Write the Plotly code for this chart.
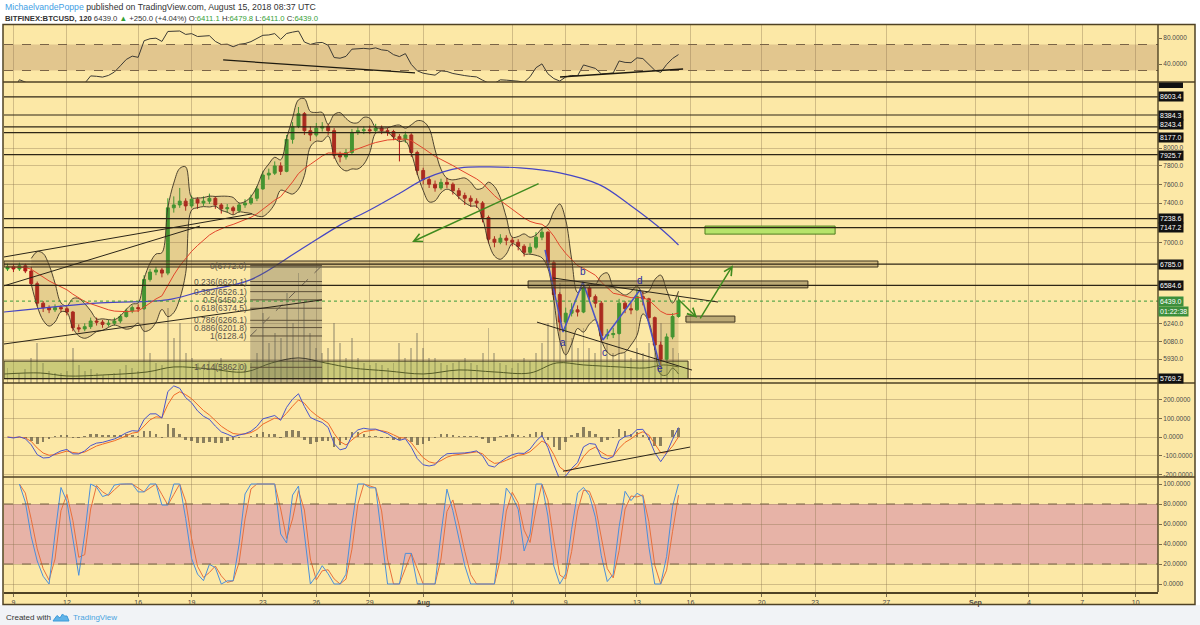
import numpy as np
import pandas as pd
import plotly.graph_objects as go

# ===================== DATA =====================
candle_start = "2018-07-08 16:00"      # first 8-hour candle (aggregated view)
candle_hours = 8
first_open = 6740.0
close = [6760, 6740, 6770, 6720, 6600, 6420, 6380, 6360, 6380, 6370,
         6340, 6200, 6190, 6210, 6260, 6250, 6230, 6240, 6260, 6300,
         6350, 6380, 6370, 6640, 6710, 6730, 6700, 7350, 7380, 7420,
         7370, 7440, 7400, 7420, 7450, 7380, 7340, 7350, 7320, 7380,
         7400, 7450, 7550, 7700, 7720, 7800, 7740, 8100, 8250, 8400,
         8200, 8150, 8230, 8250, 8200, 7920, 7900, 7950, 8180, 8200,
         8210, 8200, 8230, 8200, 8190, 8130, 8100, 8150, 7950, 7750,
         7650, 7600, 7560, 7620, 7600, 7530, 7480, 7450, 7420, 7400,
         7250, 7030, 7000, 7040, 7020, 7000, 6960, 6900, 6950, 7050,
         7100, 6800, 6500, 6250, 6330, 6360, 6340, 6560, 6480, 6420,
         6130, 6140, 6150, 6420, 6370, 6360, 6480, 6460, 6290, 6050,
         5930, 6120, 6300, 6439]
high = [6790, 6785, 6800, 6790, 6760, 6620, 6440, 6400, 6410, 6400,
        6390, 6350, 6230, 6240, 6290, 6290, 6270, 6270, 6290, 6320,
        6370, 6400, 6410, 6680, 6740, 6760, 6750, 7450, 7470, 7560,
        7450, 7480, 7460, 7470, 7500, 7470, 7400, 7390, 7370, 7400,
        7440, 7490, 7580, 7740, 7770, 7850, 7840, 8150, 8300, 8480,
        8420, 8250, 8290, 8300, 8280, 8230, 7960, 7990, 8220, 8240,
        8250, 8260, 8280, 8260, 8230, 8210, 8160, 8190, 8170, 7970,
        7780, 7680, 7640, 7660, 7670, 7620, 7560, 7510, 7480, 7450,
        7420, 7270, 7060, 7080, 7070, 7050, 7030, 6980, 6990, 7100,
        7150, 7110, 6820, 6520, 6380, 6420, 6400, 6610, 6580, 6500,
        6440, 6190, 6200, 6460, 6440, 6420, 6550, 6530, 6470, 6300,
        6080, 6150, 6330, 6480]
low = [6720, 6710, 6720, 6700, 6580, 6390, 6340, 6330, 6340, 6340,
       6310, 6170, 6160, 6170, 6190, 6220, 6200, 6210, 6220, 6240,
       6290, 6330, 6340, 6360, 6620, 6680, 6660, 6680, 7300, 7350,
       7320, 7350, 7340, 7370, 7390, 7340, 7290, 7300, 7280, 7300,
       7350, 7380, 7420, 7540, 7650, 7700, 7700, 7730, 8050, 8230,
       8150, 8080, 8130, 8190, 8150, 7880, 7840, 7870, 7930, 8150,
       8160, 8160, 8180, 8160, 8140, 8090, 7850, 8060, 7900, 7700,
       7600, 7560, 7520, 7540, 7560, 7490, 7440, 7380, 7360, 7350,
       7200, 6990, 6950, 6980, 6970, 6960, 6920, 6860, 6880, 6930,
       7020, 6760, 6450, 6170, 6160, 6300, 6300, 6330, 6440, 6380,
       6080, 6100, 6110, 6140, 6330, 6320, 6350, 6400, 6250, 6010,
       5860, 5920, 6100, 6290]
volume = [15, 12, 10, 14, 25, 40, 20, 12, 10, 10,
          12, 35, 18, 12, 14, 10, 8, 9, 10, 14,
          18, 15, 12, 75, 30, 20, 18, 75, 45, 60,
          30, 25, 20, 18, 22, 20, 25, 15, 15, 20,
          18, 20, 30, 70, 40, 50, 45, 90, 60, 110,
          80, 50, 35, 30, 35, 60, 40, 25, 45, 25,
          20, 18, 20, 18, 15, 20, 40, 25, 35, 50,
          35, 25, 25, 20, 18, 20, 22, 25, 20, 18,
          30, 55, 30, 20, 18, 15, 20, 25, 22, 30,
          40, 60, 120, 100, 70, 45, 35, 55, 35, 30,
          60, 40, 30, 50, 30, 25, 35, 30, 40, 55,
          60, 45, 35, 30]

# volume moving-average line (same units as volume)
vol_ma_times = ["2018-07-08 12:00", "2018-07-10 12:00", "2018-07-12 00:00", "2018-07-14 00:00",
                "2018-07-16 12:00", "2018-07-18 00:00", "2018-07-20 00:00", "2018-07-22 00:00",
                "2018-07-23 12:00", "2018-07-25 00:00", "2018-07-26 12:00", "2018-07-28 00:00",
                "2018-07-30 00:00", "2018-08-01 00:00", "2018-08-03 00:00", "2018-08-05 00:00",
                "2018-08-07 00:00", "2018-08-08 12:00", "2018-08-10 00:00", "2018-08-12 00:00",
                "2018-08-13 12:00", "2018-08-14 12:00", "2018-08-15 08:00"]
vol_ma_values = [9, 10, 7, 8, 11, 16, 14, 11, 20, 25, 20, 15, 12, 9, 13, 11, 10, 20, 18, 16, 15, 18, 16]

# long moving average (blue)
ma_long_times = ["2018-07-08 11:00", "2018-07-13 21:00", "2018-07-17 15:00", "2018-07-19 11:00",
                 "2018-07-22 07:00", "2018-07-25 02:00", "2018-07-27 08:00", "2018-07-29 00:00",
                 "2018-07-30 17:00", "2018-08-01 05:00", "2018-08-03 02:00", "2018-08-04 18:00",
                 "2018-08-06 10:30", "2018-08-08 16:00", "2018-08-10 22:00", "2018-08-12 14:30",
                 "2018-08-14 07:00", "2018-08-15 08:00"]
ma_long_values = [6340, 6423, 6450, 6524, 6636, 6924, 7172, 7328, 7507, 7669,
                  7778, 7789, 7778, 7723, 7593, 7380, 7142, 6973]

# horizontal levels with price labels
level_prices = [8801.5, 8603.4, 8384.3, 8243.4, 8177.0, 7925.7,
                7238.6, 7147.2, 6785.0, 6584.6, 5769.2]
last_price = 6439.0
countdown = "01:22:38"

# fibonacci retracement
fib_names = ["0", "0.236", "0.382", "0.5", "0.618", "0.786", "0.886", "1", "1.414", "1.618"]
fib_prices = [6772.0, 6620.1, 6526.1, 6450.2, 6374.5, 6266.1, 6201.8, 6128.4, 5862.0, 5730.7]
fib_t0, fib_t1 = "2018-07-22 07:00", "2018-07-26 07:40"

# drawn boxes: (time0, time1, price0, price1)
zone_boxes = [("2018-07-08 11:15", "2018-08-26 12:40", 6758, 6816),
              ("2018-08-06 21:20", "2018-08-22 14:20", 6561, 6626),
              ("2018-08-15 18:00", "2018-08-18 12:00", 6250, 6304),
              ("2018-07-08 11:15", "2018-08-15 20:50", 5769.2, 5914)]
target_box = ("2018-08-16 19:40", "2018-08-24 03:00", 7081, 7162)

# drawn trend lines (time0, value0, time1, value1)
price_trendlines = [("2018-07-08 11:15", 6855, "2018-07-22 09:20", 7287),
                    ("2018-07-08 11:15", 6580, "2018-07-19 11:15", 7162),
                    ("2018-07-08 11:15", 6059, "2018-07-26 07:40", 6450),
                    ("2018-08-08 07:00", 6654, "2018-08-17 13:10", 6431),
                    ("2018-08-07 09:20", 6250, "2018-08-16 02:10", 5839)]
rsi_trendlines = [("2018-07-20 18:30", 46.2, "2018-07-31 13:00", 26.2),
                  ("2018-08-08 16:20", 20.0, "2018-08-15 14:10", 32.3)]
macd_trendlines = [("2018-08-08 20:25", -182, "2018-08-15 23:30", -53.5)]

# green arrows (tail time, tail price, head time, head price)
green_arrows = [("2018-08-07 13:30", 7614, "2018-07-31 09:00", 7003),
                ("2018-08-15 06:00", 6468, "2018-08-16 09:00", 6288),
                ("2018-08-16 12:00", 6270, "2018-08-18 09:20", 6776)]

# a-b-c-d-e wave
wave_times = ["2018-08-07 20:10", "2018-08-08 20:25", "2018-08-09 23:15",
              "2018-08-11 02:10", "2018-08-13 04:05", "2018-08-14 07:10"]
wave_prices = [6924, 6163, 6617, 6094, 6542, 5870]
wave_label_text = ["a", "b", "c", "d", "e"]
wave_label_times = ["2018-08-08 20:25", "2018-08-09 23:15", "2018-08-11 04:50",
                    "2018-08-13 04:05", "2018-08-14 07:10"]
wave_label_prices = [6068, 6711, 5983, 6626, 5855]

# axes
x_tick_dates = ["2018-07-09", "2018-07-12", "2018-07-16", "2018-07-19", "2018-07-23",
                "2018-07-26", "2018-07-29", "2018-08-01", "2018-08-06", "2018-08-09",
                "2018-08-13", "2018-08-16", "2018-08-20", "2018-08-23", "2018-08-27",
                "2018-09-01", "2018-09-04", "2018-09-07", "2018-09-10"]
x_tick_text = ["9", "12", "16", "19", "23", "26", "29", "<b>Aug</b>", "6", "9",
               "13", "16", "20", "23", "27", "<b>Sep</b>", "4", "7", "10"]
x_view = ["2018-07-08 11:15", "2018-09-11 06:00"]
price_ticks = [8000, 7800, 7600, 7400, 7000, 6240, 6080, 5930]
price_view = [5733, 8786]
rsi_ticks = [80, 40]
rsi_view = [12.3, 100]
macd_ticks = [200, 100, 0, -100, -200]
macd_view = [-213, 288]
stoch_ticks = [100, 80, 60, 40, 20, 0]
stoch_view = [-8, 107]

# ===================== DERIVED SERIES =====================
times = pd.date_range(candle_start, periods=len(close), freq=f"{candle_hours}h")
c = pd.Series(close, dtype=float)
opens = [first_open] + close[:-1]
L = np.log10

bb_mid = c.rolling(5).mean()
bb_sd = c.rolling(5).std(ddof=0)
bb_up, bb_lo = bb_mid + 2 * bb_sd, bb_mid - 2 * bb_sd
ema_red = c.ewm(span=16, adjust=False).mean()

d = c.diff()
gain = d.clip(lower=0).ewm(alpha=1 / 9, adjust=False).mean()
loss = (-d.clip(upper=0)).ewm(alpha=1 / 9, adjust=False).mean()
rsi = 100 - 100 / (1 + gain / loss)

g5 = d.clip(lower=0).ewm(alpha=1 / 5, adjust=False).mean()
l5 = (-d.clip(upper=0)).ewm(alpha=1 / 5, adjust=False).mean()
rsi_fast = 100 - 100 / (1 + g5 / l5)
rmin = rsi_fast.rolling(5, min_periods=2).min()
rmax = rsi_fast.rolling(5, min_periods=2).max()
k_raw = 100 * (rsi_fast - rmin) / (rmax - rmin)
stoch_k = k_raw.rolling(2, min_periods=1).mean()
stoch_d = stoch_k.rolling(2, min_periods=1).mean()

macd = c.ewm(span=3, adjust=False).mean() - c.ewm(span=7, adjust=False).mean()
signal = macd.ewm(span=3, adjust=False).mean()
hist = macd - signal

# ===================== STYLE =====================
FONT = "Liberation Sans, Arial, sans-serif"
YELLOW = "#fce8a6"
GRID = "rgba(140,115,80,0.38)"
BORDER = "#4f4224"
UP, DOWN = "#2f9e2f", "#b01818"


def PX(x):
    return (x - 4) / 1154


def PY(y):
    return (592 - y) / 567


dom_rsi = [PY(82), 1]
dom_main = [PY(383), PY(82)]
dom_macd = [PY(477), PY(383)]
dom_stoch = [0, PY(477)]

fig = go.Figure()

# volume (base axis of main pane)
fig.add_trace(go.Bar(x=times, y=volume, width=2.6 * 3600e3, marker=dict(color="rgba(105,100,85,0.38)", line_width=0),
                     xaxis="x", yaxis="y"))
fig.add_trace(go.Scatter(x=pd.to_datetime(vol_ma_times), y=vol_ma_values, mode="lines",
                         line=dict(color="#2e2918", width=1, shape="spline"), xaxis="x", yaxis="y"))

# bollinger bands
fig.add_trace(go.Scatter(x=times, y=L(bb_up), mode="lines", line=dict(color="#3b3222", width=0.9, shape="spline"),
                         xaxis="x", yaxis="y2"))
fig.add_trace(go.Scatter(x=times, y=L(bb_lo), mode="lines", line=dict(color="#3b3222", width=0.9, shape="spline"),
                         fill="tonexty", fillcolor="rgba(150,115,60,0.22)", xaxis="x", yaxis="y2"))
fig.add_trace(go.Scatter(x=pd.to_datetime(ma_long_times), y=L(np.array(ma_long_values, float)), mode="lines",
                         line=dict(color="#4646c4", width=1.2, shape="spline"), xaxis="x", yaxis="y2"))
fig.add_trace(go.Scatter(x=times, y=L(ema_red), mode="lines", line=dict(color="#e2452c", width=1),
                         xaxis="x", yaxis="y2"))
fig.add_trace(go.Candlestick(x=times, open=L(np.array(opens, float)), high=L(np.array(high, float)),
                             low=L(np.array(low, float)), close=L(np.array(close, float)),
                             increasing=dict(line=dict(color=UP, width=1), fillcolor=UP),
                             decreasing=dict(line=dict(color=DOWN, width=1), fillcolor=DOWN),
                             whiskerwidth=0, xaxis="x", yaxis="y2"))
fig.add_trace(go.Scatter(x=pd.to_datetime(wave_times), y=L(np.array(wave_prices, float)), mode="lines",
                         line=dict(color="#4a52c6", width=1.5), xaxis="x", yaxis="y2"))

# RSI
fig.add_trace(go.Scatter(x=times, y=rsi, mode="lines", line=dict(color="#3c3a34", width=1),
                         xaxis="x", yaxis="y3"))
# MACD
fig.add_trace(go.Bar(x=times, y=hist, width=3.5 * 3600e3, marker=dict(color="rgba(100,92,70,0.75)", line_width=0),
                     xaxis="x", yaxis="y4"))
fig.add_trace(go.Scatter(x=times, y=signal, mode="lines", line=dict(color="#f06a28", width=1),
                         xaxis="x", yaxis="y4"))
fig.add_trace(go.Scatter(x=times, y=macd, mode="lines", line=dict(color="#4a55cc", width=1),
                         xaxis="x", yaxis="y4"))
# Stoch RSI
fig.add_trace(go.Scatter(x=times, y=stoch_d, mode="lines", line=dict(color="#e8703c", width=1),
                         xaxis="x", yaxis="y5"))
fig.add_trace(go.Scatter(x=times, y=stoch_k, mode="lines", line=dict(color="#4a8fdc", width=1),
                         xaxis="x", yaxis="y5"))

shapes = []
# chart background & footer
shapes.append(dict(type="rect", xref="paper", yref="paper", x0=PX(3), x1=PX(1195), y0=PY(605), y1=PY(24.5),
                   fillcolor=YELLOW, line_width=0, layer="below"))
shapes.append(dict(type="rect", xref="paper", yref="paper", x0=PX(0), x1=PX(1200), y0=PY(625), y1=PY(605),
                   fillcolor="#f1f3f6", line_width=0, layer="below"))
# RSI band & stoch band
shapes.append(dict(type="rect", xref="paper", yref="y3", x0=0, x1=1, y0=30, y1=70,
                   fillcolor="rgba(165,120,85,0.30)", line_width=0, layer="below"))
shapes.append(dict(type="rect", xref="paper", yref="y5", x0=0, x1=1, y0=20, y1=80,
                   fillcolor="rgba(195,85,170,0.36)", line_width=0, layer="below"))
for yr, v in [("y3", 70), ("y3", 30), ("y5", 80), ("y5", 20)]:
    shapes.append(dict(type="line", xref="paper", yref=yr, x0=0, x1=1, y0=v, y1=v,
                       line=dict(color="#7a6446", width=1, dash="dash")))

# boxes
box_styles = [dict(fillcolor="rgba(140,110,60,0.35)"), dict(fillcolor="rgba(110,95,60,0.45)"),
              dict(fillcolor="rgba(110,95,60,0.45)"), dict(fillcolor="rgba(135,160,60,0.42)")]
for (t0, t1, p0, p1), st in zip(zone_boxes, box_styles):
    shapes.append(dict(type="rect", xref="x", yref="y2", x0=t0, x1=t1, y0=L(p0), y1=L(p1),
                       line=dict(color="#3f3420", width=1), **st))
t0, t1, p0, p1 = target_box
shapes.append(dict(type="rect", xref="x", yref="y2", x0=t0, x1=t1, y0=L(p0), y1=L(p1),
                   fillcolor="#b6e36a", line=dict(color="#4f7d1e", width=1)))

# fib
shapes.append(dict(type="rect", xref="x", yref="y2", x0=fib_t0, x1=fib_t1, y0=L(5600), y1=L(fib_prices[0]),
                   fillcolor="rgba(95,90,80,0.33)", line_width=0))
for p in fib_prices:
    shapes.append(dict(type="line", xref="x", yref="y2", x0=fib_t0, x1=fib_t1, y0=L(p), y1=L(p),
                       line=dict(color="#5e5038", width=1)))
shapes.append(dict(type="line", xref="x", yref="y2", x0=fib_t0, x1=fib_t1, y0=L(fib_prices[7]), y1=L(fib_prices[0]),
                   line=dict(color="#6b6050", width=1, dash="dash")))

# horizontal levels
for p in level_prices:
    shapes.append(dict(type="line", xref="paper", yref="y2", x0=0, x1=1, y0=L(p), y1=L(p),
                       line=dict(color="#2e2616", width=1.2)))
shapes.append(dict(type="line", xref="paper", yref="y2", x0=0, x1=1, y0=L(last_price), y1=L(last_price),
                   line=dict(color="#3a9a3a", width=1, dash="dot")))

# trend lines
for t0, v0, t1, v1 in price_trendlines:
    shapes.append(dict(type="line", xref="x", yref="y2", x0=t0, x1=t1, y0=L(v0), y1=L(v1),
                       line=dict(color="#2a2418", width=1)))
for t0, v0, t1, v1 in rsi_trendlines:
    shapes.append(dict(type="line", xref="x", yref="y3", x0=t0, x1=t1, y0=v0, y1=v1,
                       line=dict(color="#1e1a10", width=1.3)))
for t0, v0, t1, v1 in macd_trendlines:
    shapes.append(dict(type="line", xref="x", yref="y4", x0=t0, x1=t1, y0=v0, y1=v1,
                       line=dict(color="#2a2418", width=1)))

# pane separators, axis lines, border
for ypx in (82, 383, 477):
    shapes.append(dict(type="line", xref="paper", yref="paper", x0=PX(3), x1=PX(1195), y0=PY(ypx), y1=PY(ypx),
                       line=dict(color=BORDER, width=1.6)))
shapes.append(dict(type="line", xref="paper", yref="paper", x0=1, x1=1, y0=0, y1=PY(24.5),
                   line=dict(color=BORDER, width=1.4)))
shapes.append(dict(type="rect", xref="paper", yref="paper", x0=PX(3), x1=PX(1195), y0=PY(604.5), y1=PY(24.5),
                   line=dict(color=BORDER, width=1.5)))
# clipped top label fragment
shapes.append(dict(type="rect", xref="paper", yref="paper", x0=PX(1159), x1=PX(1183), y0=PY(88), y1=PY(82.5),
                   fillcolor="#111111", line_width=0))
# footer logo
lx = [53, 57, 60, 62.5, 64.5, 67, 69, 53]
ly = [621, 615.5, 618, 614, 616, 616, 621, 621]
path = "M" + " L".join(f"{PX(a):.5f},{PY(b):.5f}" for a, b in zip(lx, ly)) + " Z"
shapes.append(dict(type="path", xref="paper", yref="paper", path=path, fillcolor="#5fb3e8",
                   line=dict(color="#3d9ad8", width=1)))

ann = []
# header
ann.append(dict(xref="paper", yref="paper", x=PX(3), y=PY(7), xanchor="left", yanchor="middle", showarrow=False,
                text='<span style="color:#3fa0e4">MichaelvandePoppe</span> published on TradingView.com, August 15, 2018 08:37 UTC',
                font=dict(family=FONT, size=8.7, color="#333333")))
G = "#34a034"
ann.append(dict(xref="paper", yref="paper", x=PX(3), y=PY(18.5), xanchor="left", yanchor="middle", showarrow=False,
                text=(f'<b>BITFINEX:BTCUSD, 120</b> 6439.0 <span style="color:{G}">▲</span> +250.0 (+4.04%) '
                      f'O:<span style="color:{G}">6411.1</span> H:<span style="color:{G}">6479.8</span> '
                      f'L:<span style="color:{G}">6411.0</span> C:<span style="color:{G}">6439.0</span>'),
                font=dict(family=FONT, size=7.7, color="#333333")))
# footer
ann.append(dict(xref="paper", yref="paper", x=PX(4), y=PY(618), xanchor="left", yanchor="middle", showarrow=False,
                text="Created with", font=dict(family=FONT, size=8, color="#333333")))
ann.append(dict(xref="paper", yref="paper", x=PX(71), y=PY(618), xanchor="left", yanchor="middle", showarrow=False,
                text="TradingView", font=dict(family=FONT, size=8, color="#4aa3df")))

# price labels on the right
label_shift = {8243.4: 2, 8177.0: -5, 7925.7: -1}
for p in level_prices[1:]:
    ann.append(dict(xref="paper", yref="y2", x=1, y=L(p), xanchor="left", yanchor="middle", showarrow=False,
                    yshift=label_shift.get(p, 0), text=f"{p:.1f}", bgcolor="#111111", borderpad=1,
                    font=dict(family=FONT, size=7, color="#ffffff")))
ann.append(dict(xref="paper", yref="y2", x=1, y=L(last_price), xanchor="left", yanchor="middle", showarrow=False,
                text=f"{last_price:.1f}", bgcolor="#3c8f3c", borderpad=1, font=dict(family=FONT, size=7, color="#ffffff")))
ann.append(dict(xref="paper", yref="y2", x=1, y=L(last_price), xanchor="left", yanchor="middle", showarrow=False,
                yshift=-10, text=countdown, bgcolor="#3c8f3c", borderpad=1,
                font=dict(family=FONT, size=7, color="#ffffff")))

# fib labels
for n, p in zip(fib_names[:-1], fib_prices[:-1]):
    ann.append(dict(xref="x", yref="y2", x=fib_t0, y=L(p), xanchor="right", yanchor="middle", showarrow=False,
                    xshift=-1, text=f"{n}({p:.1f})", font=dict(family=FONT, size=8.5, color="#5a5448")))

# wave labels
for t, tx, p in zip(wave_label_times, wave_label_text, wave_label_prices):
    ann.append(dict(xref="x", yref="y2", x=t, y=L(p), showarrow=False, text=tx,
                    font=dict(family=FONT, size=10, color="#2c2ca0")))

# green arrows
for t0, p0, t1, p1 in green_arrows:
    ann.append(dict(xref="x", yref="y2", x=t1, y=L(p1), axref="x", ayref="y2", ax=t0, ay=L(p0),
                    showarrow=True, arrowhead=5, arrowsize=1.1, arrowwidth=1.5, arrowcolor="#3f8a1e", text=""))

tick_font = dict(family=FONT, size=6.5, color="#4a4a4a")
ycommon = dict(side="right", anchor="x", ticks="outside", ticklen=3, tickcolor="#7a6a4a", tickfont=tick_font,
               zeroline=False, showline=False, fixedrange=True, gridcolor=GRID, gridwidth=1)

fig.update_layout(
    width=1200, height=625, margin=dict(l=4, r=42, t=25, b=33),
    paper_bgcolor="#ffffff", plot_bgcolor=YELLOW, showlegend=False, font=dict(family=FONT),
    bargap=0, shapes=shapes, annotations=ann,
    xaxis=dict(type="date", range=x_view, domain=[0, 1], anchor="y5", tickvals=x_tick_dates,
               ticktext=x_tick_text, ticks="outside", ticklen=3, tickcolor="#7a6a4a",
               tickfont=dict(family=FONT, size=7, color="#4a4a4a"), showgrid=True, gridcolor=GRID,
               showline=True, linecolor=BORDER, linewidth=1.5, zeroline=False,
               rangeslider=dict(visible=False), fixedrange=True),
    yaxis=dict(domain=dom_main, range=[0, 300], visible=False, fixedrange=True),
    yaxis2=dict(overlaying="y", range=[L(price_view[0]), L(price_view[1])],
                tickvals=[L(v) for v in price_ticks], ticktext=[f"{v:.1f}" for v in price_ticks],
                showgrid=True, **ycommon),
    yaxis3=dict(domain=dom_rsi, range=rsi_view, tickvals=rsi_ticks, ticktext=[f"{v:.4f}" for v in rsi_ticks],
                showgrid=False, **ycommon),
    yaxis4=dict(domain=dom_macd, range=macd_view, tickvals=macd_ticks, ticktext=[f"{v:.4f}" for v in macd_ticks],
                showgrid=True, **ycommon),
    yaxis5=dict(domain=dom_stoch, range=stoch_view, tickvals=stoch_ticks,
                ticktext=[f"{v:.4f}" for v in stoch_ticks], showgrid=True, **ycommon),
)

fig.write_html("out.html", config={"displayModeBar": False},
               post_script="document.body.style.margin='0px';document.body.style.padding='0px';")
